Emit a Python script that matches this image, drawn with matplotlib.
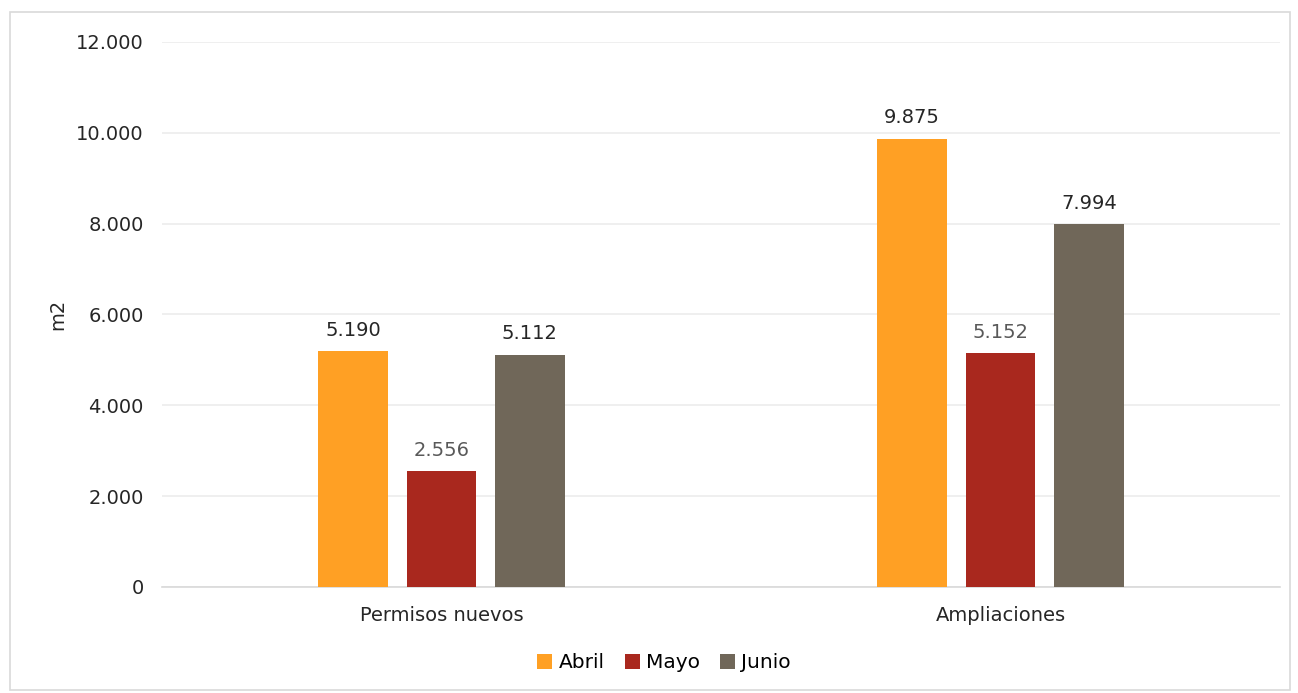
import numpy as np
import matplotlib.pyplot as plt
from matplotlib.patches import Rectangle
from matplotlib.ticker import FuncFormatter

plt.rcParams['font.family'] = ['DejaVu Sans']

categorias = ["Permisos nuevos", "Ampliaciones"]
meses = ["Abril", "Mayo", "Junio"]
abril = [5190, 9875]
mayo = [2556, 5152]
junio = [5112, 7994]
colores = ["#FFA024", "#A9281E", "#706759"]
color_etiquetas = ["#262626", "#595959", "#262626"]

fig = plt.figure(figsize=(12.98, 6.93), dpi=100)
ax = fig.add_axes([0.1248, 0.153, 0.8613, 0.7864])

# marco exterior
fig.patches.append(Rectangle((10 / 1298, 3 / 693), 1280 / 1298, 678 / 693,
                             transform=fig.transFigure, fill=False,
                             edgecolor="#d9d9d9", linewidth=1.2))

x = np.arange(len(categorias))
ancho = 0.125
paso = 0.158
for i, (serie, nombre) in enumerate(zip([abril, mayo, junio], meses)):
    pos = x + (i - 1) * paso
    barras = ax.bar(pos, serie, width=ancho, color=colores[i], label=nombre, zorder=3)
    for b, v in zip(barras, serie):
        ax.text(b.get_x() + b.get_width() / 2, v + 250,
                f"{v:,}".replace(",", "."), ha="center", va="bottom",
                fontsize=14, color=color_etiquetas[i])

ax.set_xlim(-0.5, 1.5)
ax.set_ylim(0, 12000)
ax.set_yticks(np.arange(0, 12001, 2000))
ax.yaxis.set_major_formatter(FuncFormatter(lambda v, p: f"{int(v):,}".replace(",", ".")))
ax.set_xticks(x)
ax.set_xticklabels(categorias)
ax.tick_params(axis="both", length=0, labelsize=14, colors="#262626")
ax.tick_params(axis="x", pad=14)
ax.tick_params(axis="y", pad=13)
ax.grid(axis="y", color="#ececec", linewidth=1.2, zorder=0)
for s in ["top", "right", "left"]:
    ax.spines[s].set_visible(False)
ax.spines["bottom"].set_color("#d9d9d9")
ax.spines["bottom"].set_linewidth(1.2)
ax.set_ylabel("m2", fontsize=14, color="#262626")
ax.yaxis.set_label_coords(-0.085, 0.5)

fig.legend(loc="center", bbox_to_anchor=(664 / 1298, 1 - 663 / 693), ncol=3, frameon=False,
           fontsize=14.5, handlelength=0.75, handleheight=0.75, handletextpad=0.3,
           columnspacing=1.0)

fig.savefig("out.png", dpi=100)
